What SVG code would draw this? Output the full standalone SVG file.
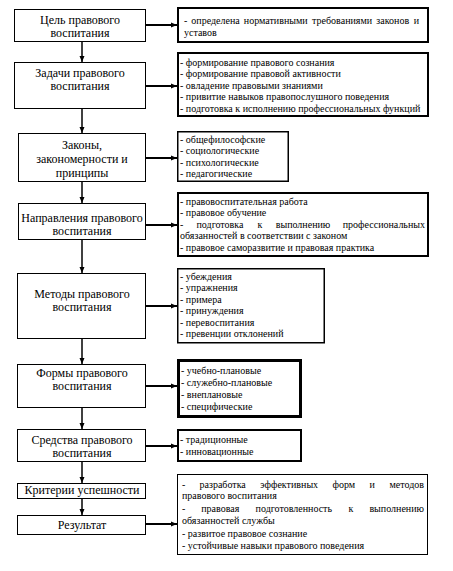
<svg xmlns="http://www.w3.org/2000/svg" width="453" height="571" viewBox="0 0 453 571">
<style>
.n{fill:#fff;stroke:#000;stroke-width:1}
.l{fill:#fff;stroke:#000}
.t{font-family:"Liberation Serif","Times New Roman",serif;font-size:12px;fill:#000;text-anchor:middle}
.s{font-family:"Liberation Serif","Times New Roman",serif;font-size:10px;fill:#000}
.e{text-anchor:end}
.c{stroke:#000;stroke-width:2;fill:none}
.v{stroke:#000;stroke-width:1.5;fill:none}
</style>
<defs>
<marker id="ah" viewBox="0 0 6 6" refX="6" refY="3" markerWidth="6" markerHeight="6" markerUnits="userSpaceOnUse" orient="auto">
<path d="M0,0.5 L6,3 L0,5.5 Z" fill="#000"/>
</marker>
</defs>
<rect width="453" height="571" fill="#fff"/>
<g id="connectors">
<path class="v" d="M82,42 V62" marker-end="url(#ah)"/>
<path class="v" d="M82,109 V133" marker-end="url(#ah)"/>
<path class="v" d="M82,182 V203" marker-end="url(#ah)"/>
<path class="v" d="M82,240 V273" marker-end="url(#ah)"/>
<path class="v" d="M82,339 V364" marker-end="url(#ah)"/>
<path class="v" d="M82,408 V429" marker-end="url(#ah)"/>
<path class="v" d="M82,462 V483" marker-end="url(#ah)"/>
<path class="v" d="M82,498 V515" marker-end="url(#ah)"/>
<path class="c" d="M146,25 H177" marker-end="url(#ah)"/>
<path class="c" d="M146,86 H177" marker-end="url(#ah)"/>
<path class="c" d="M146,158 H177" marker-end="url(#ah)"/>
<path class="c" d="M146,225 H177" marker-end="url(#ah)"/>
<path class="c" d="M146,306 H177" marker-end="url(#ah)"/>
<path class="c" d="M146,386 H177" marker-end="url(#ah)"/>
<path class="c" d="M146,446 H177" marker-end="url(#ah)"/>
<path class="c" d="M146,524 H177" marker-end="url(#ah)"/>
</g>
<g id="n1">
<rect class="n" x="14.5" y="9.5" width="131" height="32"/>
<text class="t" x="80" y="24">Цель правового</text>
<text class="t" x="80" y="37">воспитания</text>
</g>
<g id="r1">
<rect class="l" x="178" y="8" width="250" height="34" stroke-width="2"/>
<text class="s" y="24"><tspan x="184">-</tspan><tspan x="191.3">определена</tspan><tspan x="243.8">нормативными</tspan><tspan x="312.1">требованиями</tspan><tspan x="376.3">законов</tspan></text>
<text class="s e" x="419" y="24">и</text>
<text class="s" x="184" y="36">уставов</text>
</g>
<g id="n2">
<rect class="n" x="14.5" y="62.5" width="131" height="46"/>
<text class="t" x="80" y="77">Задачи правового</text>
<text class="t" x="80" y="90">воспитания</text>
</g>
<g id="r2">
<rect class="l" x="178" y="53" width="250" height="63" stroke-width="2"/>
<text class="s" x="180" y="65.5">- формирование правового сознания</text>
<text class="s" x="180" y="77">- формирование правовой активности</text>
<text class="s" x="180" y="88.5">- овладение правовыми знаниями</text>
<text class="s" x="180" y="100">- привитие навыков правопослушного поведения</text>
<text class="s" x="180" y="111.5">- подготовка к исполнению профессиональных функций</text>
</g>
<g id="n3">
<rect class="n" x="18.5" y="133.5" width="127" height="48"/>
<text class="t" x="82" y="149">Законы,</text>
<text class="t" x="82" y="163">закономерности и</text>
<text class="t" x="82" y="177">принципы</text>
</g>
<g id="r3">
<rect class="l" x="177.75" y="131.75" width="110.5" height="49.5" stroke-width="1.5"/>
<text class="s" x="180" y="142.5">- общефилософские</text>
<text class="s" x="180" y="154">- социологические</text>
<text class="s" x="180" y="165.5">- психологические</text>
<text class="s" x="180" y="177">- педагогические</text>
</g>
<g id="n4">
<rect class="n" x="18.5" y="203.5" width="127" height="36"/>
<text class="t" x="82" y="221.5">Направления правового</text>
<text class="t" x="82" y="234.5">воспитания</text>
</g>
<g id="r4">
<rect class="l" x="178" y="193" width="250" height="63" stroke-width="2"/>
<text class="s" x="180" y="204.5">- правовоспитательная работа</text>
<text class="s" x="180" y="216">- правовое обучение</text>
<text class="s" y="227.5"><tspan x="180">-</tspan><tspan x="196.5">подготовка</tspan><tspan x="257.6">к</tspan><tspan x="275.7">выполнению</tspan></text>
<text class="s e" x="425" y="227.5">профессиональных</text>
<text class="s" x="180" y="239">обязанностей в соответствии с законом</text>
<text class="s" x="180" y="250.5">- правовое саморазвитие и правовая практика</text>
</g>
<g id="n5">
<rect class="n" x="17.5" y="273.5" width="128" height="65"/>
<text class="t" x="82" y="298">Методы правового</text>
<text class="t" x="82" y="311">воспитания</text>
</g>
<g id="r5">
<rect class="l" x="177.75" y="268.75" width="146.5" height="74" stroke-width="1.5"/>
<text class="s" x="180" y="279.5">- убеждения</text>
<text class="s" x="180" y="291">- упражнения</text>
<text class="s" x="180" y="302.5">- примера</text>
<text class="s" x="180" y="314">- принуждения</text>
<text class="s" x="180" y="325.5">- перевоспитания</text>
<text class="s" x="180" y="337">- превенции отклонений</text>
</g>
<g id="n6">
<rect class="n" x="17.5" y="364.5" width="128" height="43"/>
<text class="t" x="82" y="377">Формы правового</text>
<text class="t" x="82" y="390">воспитания</text>
</g>
<g id="r6">
<rect class="l" x="178.5" y="360.5" width="122" height="56" stroke-width="3"/>
<text class="s" x="181" y="373.5">- учебно-плановые</text>
<text class="s" x="181" y="385.5">- служебно-плановые</text>
<text class="s" x="181" y="398">- внеплановые</text>
<text class="s" x="181" y="410">- специфические</text>
</g>
<g id="n7">
<rect class="n" x="17.5" y="429.5" width="128" height="32"/>
<text class="t" x="82" y="443.5">Средства правового</text>
<text class="t" x="82" y="456.5">воспитания</text>
</g>
<g id="r7">
<rect class="l" x="178" y="430" width="123" height="31" stroke-width="2"/>
<text class="s" x="180" y="442.5">- традиционные</text>
<text class="s" x="180" y="455">- инновационные</text>
</g>
<g id="n8">
<rect class="n" x="17.5" y="483.5" width="128" height="15"/>
<text class="t" x="82" y="494">Критерии успешности</text>
</g>
<g id="n9">
<rect class="n" x="17.5" y="515.5" width="128" height="19"/>
<text class="t" x="82" y="529">Результат</text>
</g>
<g id="r9">
<rect class="l" x="177.5" y="474.5" width="250" height="80" stroke-width="1"/>
<text class="s" y="487.5"><tspan x="182">-</tspan><tspan x="199.5">разработка</tspan><tspan x="260.3">эффективных</tspan><tspan x="332.5">форм</tspan><tspan x="369.5">и</tspan></text>
<text class="s e" x="424" y="487.5">методов</text>
<text class="s" x="182" y="499">правового воспитания</text>
<text class="s" y="511.5"><tspan x="182">-</tspan><tspan x="201.2">правовая</tspan><tspan x="255.6">подготовленность</tspan><tspan x="348.5">к</tspan></text>
<text class="s e" x="424" y="511.5">выполнению</text>
<text class="s" x="182" y="524">обязанностей службы</text>
<text class="s" x="182" y="536.5">- развитое правовое сознание</text>
<text class="s" x="182" y="548.5">- устойчивые навыки правового поведения</text>
</g>
</svg>
